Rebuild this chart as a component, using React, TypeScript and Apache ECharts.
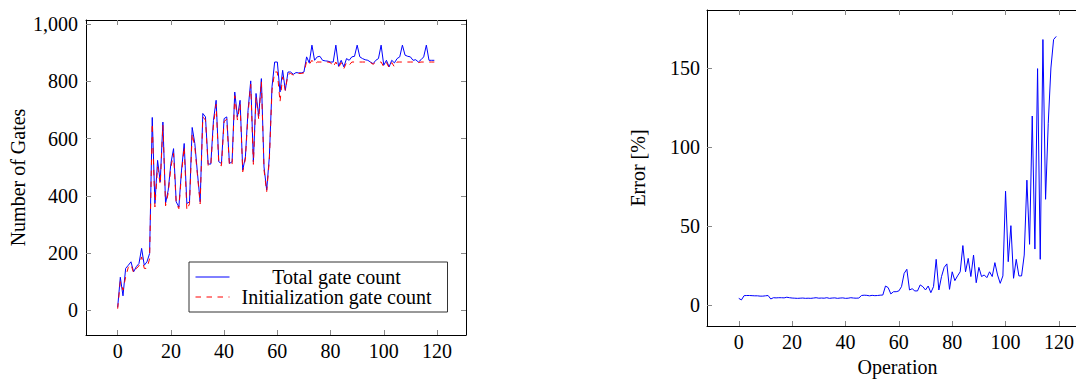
import React, { useEffect, useRef } from "react";
import * as echarts from "echarts";

// Left chart: gate counts per operation
const totalGates = [
  10, 115, 50, 146, 157, 169, 134, 152, 163, 216,
  157, 169, 198, 674, 373, 524, 449, 658, 373, 420,
  513, 565, 379, 361, 490, 583, 373, 379, 639, 583,
  478, 379, 688, 676, 511, 511, 664, 734, 519, 513,
  670, 676, 513, 519, 763, 676, 734, 490, 536, 699,
  802, 519, 758, 678, 810, 501, 420, 536, 781, 868,
  868, 763, 839, 769, 833, 833, 825, 831, 830, 830,
  833, 886, 865, 927, 874, 886, 888, 874, 872, 871,
  868, 868, 927, 853, 874, 851, 880, 874, 886, 888,
  927, 886, 880, 876, 874, 868, 862, 874, 880, 927,
  857, 874, 851, 874, 865, 880, 886, 927, 892, 888,
  886, 874, 876, 868, 876, 886, 927, 874, 874, 874,
];
const initGates = [
  5, 100, 70, 116, 150, 160, 130, 145, 155, 186,
  146, 146, 180, 653, 361, 501, 440, 647, 365, 410,
  500, 548, 372, 355, 478, 571, 350, 372, 618, 570,
  470, 372, 676, 665, 505, 505, 650, 720, 510, 505,
  660, 668, 505, 510, 750, 665, 722, 484, 528, 688,
  790, 510, 745, 668, 800, 490, 414, 525, 770, 833,
  833, 728, 816, 769, 825, 828, 822, 828, 828, 828,
  830, 870, 860, 874, 860, 868, 868, 868, 868, 868,
  866, 851, 868, 848, 866, 845, 866, 857, 868, 868,
  868, 868, 868, 868, 868, 866, 860, 868, 868, 868,
  851, 866, 848, 866, 851, 868, 868, 868, 868, 868,
  868, 868, 868, 866, 868, 868, 868, 868, 868, 868,
];

// Right chart: error per operation [%]
const errorPct = [
  4.2, 3.2, 5.9, 6.0, 6.0, 5.9, 5.8, 5.8, 5.6, 5.6,
  5.8, 6.0, 3.8, 4.6, 4.5, 4.6, 4.6, 4.5, 4.9, 4.6,
  4.4, 4.3, 4.2, 4.3, 4.4, 4.2, 4.3, 4.2, 4.4, 4.6,
  4.3, 4.4, 4.3, 4.6, 4.2, 4.4, 4.5, 4.2, 4.4, 4.5,
  4.2, 4.3, 4.6, 4.4, 4.3, 4.4, 6.0, 6.2, 6.1, 5.8,
  6.1, 5.9, 6.0, 6.2, 6.3, 12.0, 11.0, 7.0, 8.4, 8.4,
  8.9, 11.6, 20.0, 22.6, 9.5, 10.3, 8.9, 8.9, 12.7, 11.6,
  9.5, 12.0, 7.8, 11.6, 28.9, 9.5, 18.0, 23.8, 26.0, 9.9,
  21.0, 15.4, 18.4, 21.0, 37.6, 21.0, 29.5, 18.0, 31.6, 14.1,
  23.8, 18.0, 19.0, 17.3, 21.0, 18.0, 26.8, 19.0, 13.7, 18.4,
  72.0, 27.4, 50.2, 16.9, 28.9, 18.4, 18.4, 31.6, 79.0, 38.4,
  119.6, 35.4, 149.6, 28.9, 168.0, 66.9, 115.0, 150.0, 168.0, 170.0,
];

const xTicks = [0, 20, 40, 60, 80, 100, 120];
const gateTicks = [0, 200, 400, 600, 800, 1000];
const errorTicks = [0, 50, 100, 150];

const FONT = "Liberation Serif";
const FS = 20;

const pairs = (arr: number[]) => arr.map((v, i) => [i, v]);

function fmtNum(v: number) {
  return v >= 1000 ? v.toLocaleString("en-US") : String(v);
}

function xAxes(gridIndex: number, name: string) {
  const common = {
    type: "value",
    gridIndex,
    min: -11.9,
    max: 130.9,
    splitLine: { show: false },
    axisLine: { show: true, onZero: false, lineStyle: { color: "#000", width: 1 } },
    axisTick: {
      show: true,
      inside: true,
      length: 5,
      customValues: xTicks,
      lineStyle: { color: "#888", width: 1 },
    },
  };
  return [
    {
      ...common,
      position: "bottom",
      name,
      nameLocation: "middle",
      nameGap: 31,
      nameTextStyle: { fontFamily: FONT, fontSize: FS, color: "#000" },
      axisLabel: {
        show: true,
        customValues: xTicks,
        margin: 6,
        fontFamily: FONT,
        fontSize: FS,
        color: "#000",
      },
    },
    {
      ...common,
      position: "top",
      axisLabel: { show: false },
    },
  ];
}

function yAxes(gridIndex: number, min: number, max: number, ticks: number[], name: string, nameGap: number, margin: number) {
  const common = {
    type: "value",
    gridIndex,
    min,
    max,
    splitLine: { show: false },
    axisLine: { show: true, onZero: false, lineStyle: { color: "#000", width: 1 } },
    axisTick: {
      show: true,
      inside: true,
      length: 5,
      customValues: ticks,
      lineStyle: { color: "#888", width: 1 },
    },
  };
  return [
    {
      ...common,
      position: "left",
      name,
      nameLocation: "middle",
      nameGap,
      nameTextStyle: { fontFamily: FONT, fontSize: FS, color: "#000" },
      axisLabel: {
        show: true,
        customValues: ticks,
        margin,
        fontFamily: FONT,
        fontSize: FS,
        color: "#000",
        formatter: (v: number) => fmtNum(v),
      },
    },
    {
      ...common,
      position: "right",
      axisLabel: { show: false },
    },
  ];
}

export default function App() {
  const ref = useRef<HTMLDivElement>(null);
  useEffect(() => {
    if (!ref.current) return;
    const chart = echarts.init(ref.current, undefined, { renderer: "svg" });
    chart.setOption({
      animation: false,
      backgroundColor: "#fff",
      textStyle: { fontFamily: FONT, fontSize: FS, color: "#000" },
      grid: [
        { left: 86, top: 20, width: 380, height: 315, outerBoundsMode: "none", containLabel: false },
        { left: 707, top: 10, width: 381, height: 316, outerBoundsMode: "none", containLabel: false },
      ],
      xAxis: [...xAxes(0, ""), ...xAxes(1, "Operation")],
      yAxis: [
        ...yAxes(0, -87, 1015, gateTicks, "Number of Gates", 58, 8),
        ...yAxes(1, -13.3, 186.7, errorTicks, "Error [%]", 59, 7),
      ],
      legend: {
        show: true,
        orient: "vertical",
        left: 189,
        top: 262,
        padding: [5, 9, 5, 6],
        itemGap: 0,
        itemWidth: 34,
        itemHeight: 24,
        borderColor: "#333",
        borderWidth: 1,
        backgroundColor: "#fff",
        borderRadius: 0,
        itemStyle: { color: "transparent", opacity: 0, borderWidth: 0 },
        lineStyle: { width: 1 },
        data: ["Total gate count", "Initialization gate count"],
        formatter: (name: string) => "{a|" + name + "}",
        textStyle: {
          fontFamily: FONT,
          fontSize: FS,
          color: "#000",
          rich: {
            a: { width: 204, align: "center", fontFamily: FONT, fontSize: FS, color: "#000", lineHeight: 24 },
          },
        },
      },
      series: [
        {
          name: "Total gate count",
          type: "line",
          xAxisIndex: 0,
          yAxisIndex: 0,
          data: pairs(totalGates),
          symbol: "none",
          showSymbol: false,
          lineStyle: { color: "#0000ff", width: 1 },
          itemStyle: { color: "#0000ff" },
        },
        {
          name: "Initialization gate count",
          type: "line",
          xAxisIndex: 0,
          yAxisIndex: 0,
          data: pairs(initGates),
          symbol: "none",
          showSymbol: false,
          lineStyle: { color: "#ff0000", width: 1, type: [5.5, 5.5] },
          itemStyle: { color: "#ff0000" },
        },
        {
          name: "Error",
          type: "line",
          xAxisIndex: 2,
          yAxisIndex: 2,
          data: pairs(errorPct),
          symbol: "none",
          showSymbol: false,
          lineStyle: { color: "#0000ff", width: 1 },
          itemStyle: { color: "#0000ff" },
        },
      ],
    });
    return () => chart.dispose();
  }, []);
  return (
    <div
      ref={ref}
      style={{ position: "absolute", left: 0, top: 0, width: 1076, height: 379, overflow: "hidden" }}
    />
  );
}
